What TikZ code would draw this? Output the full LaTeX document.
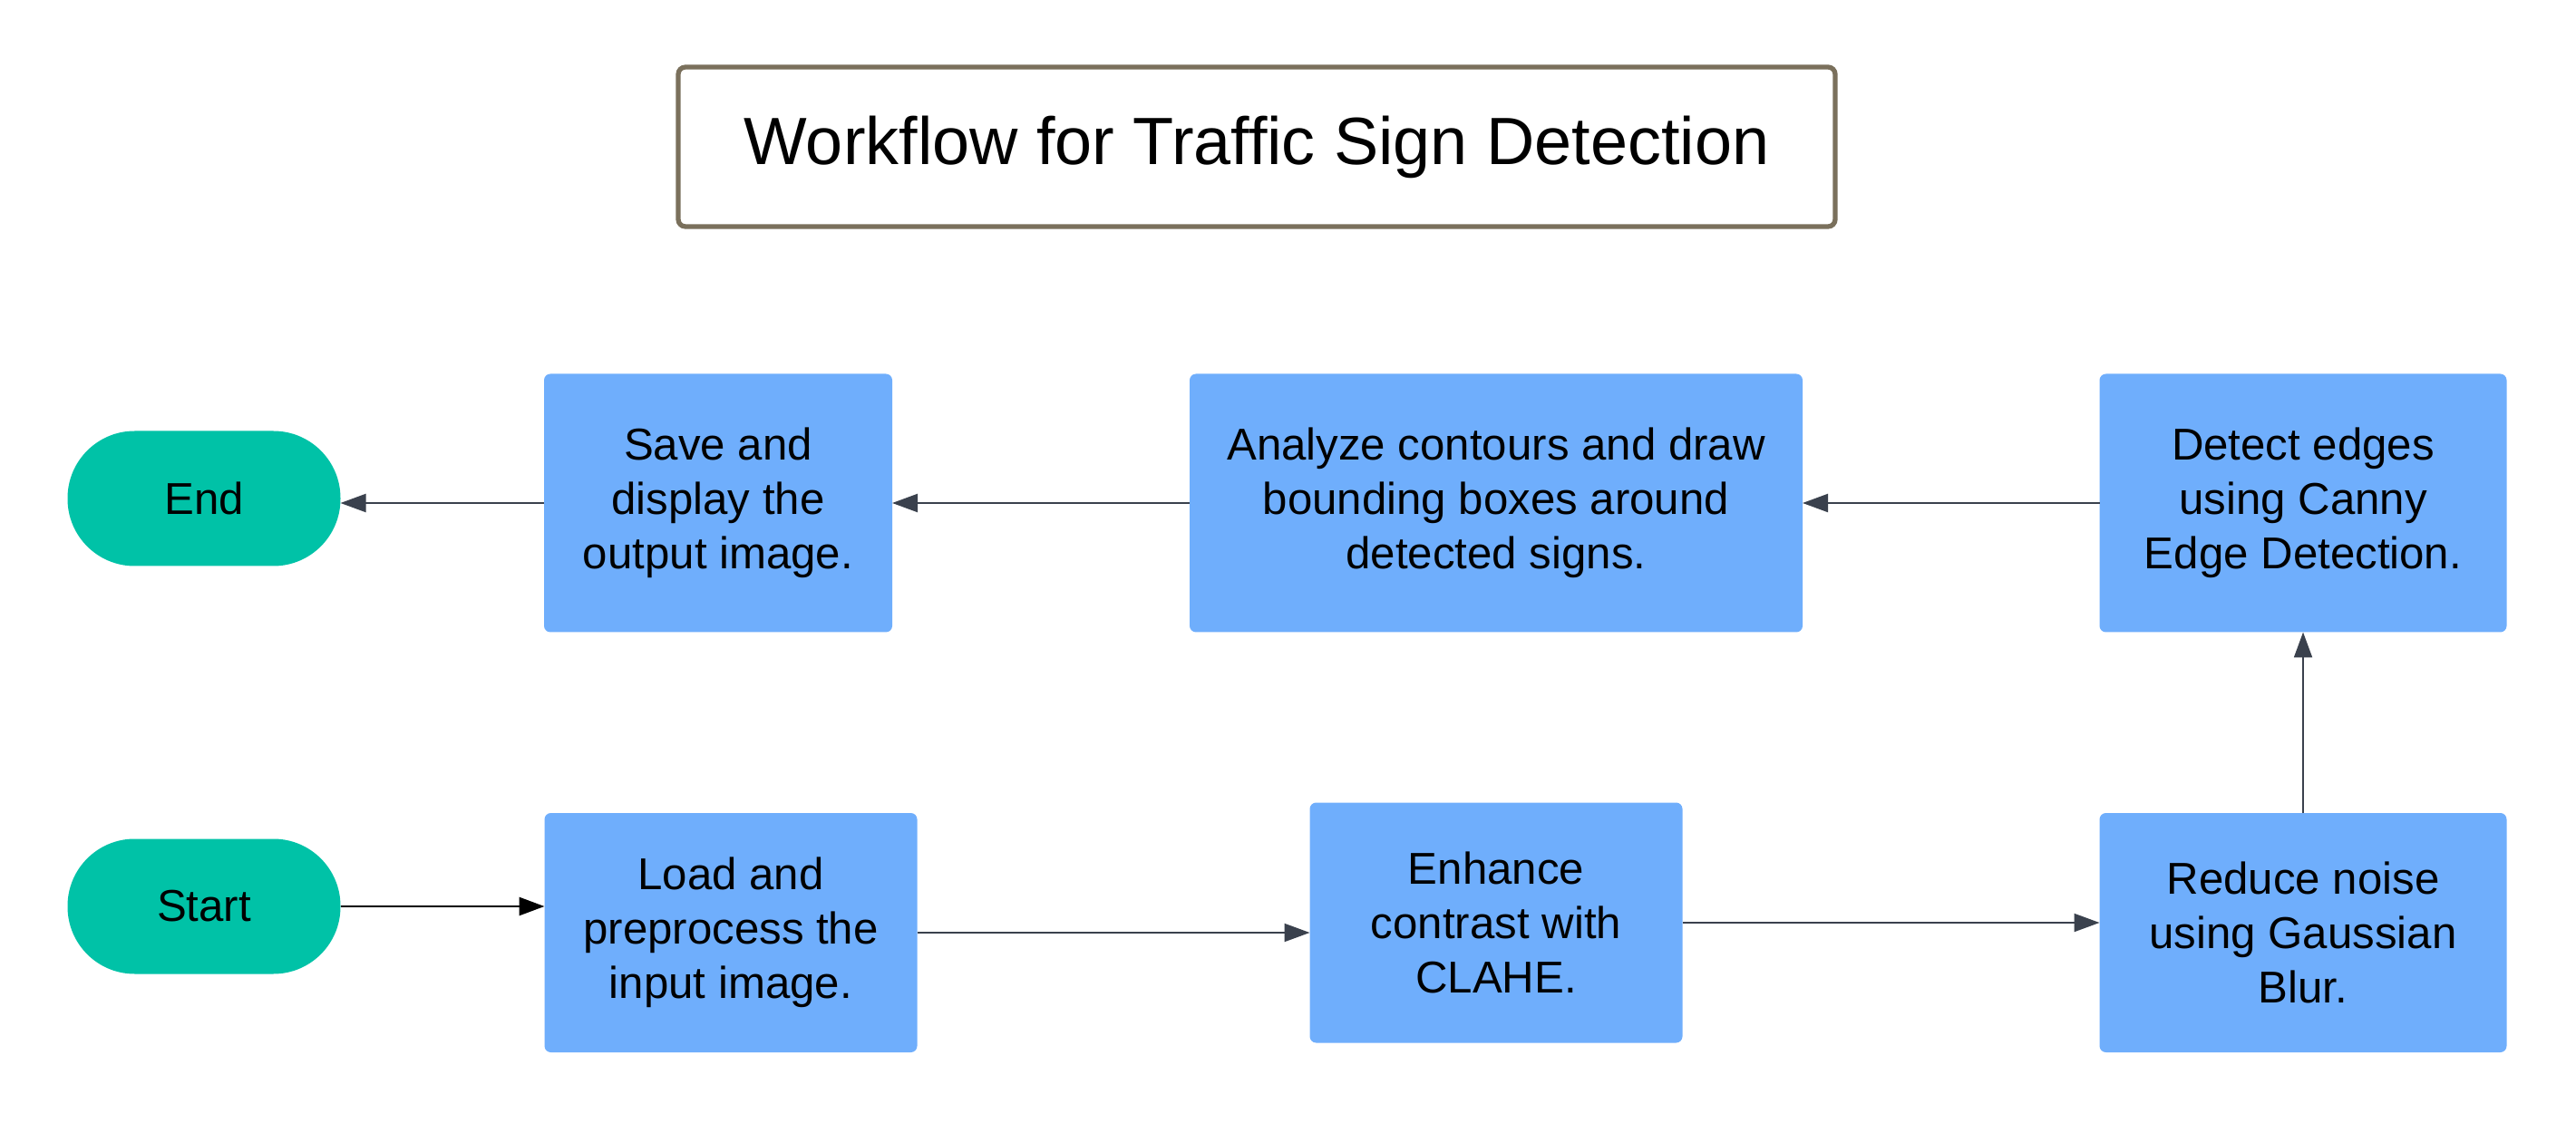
\documentclass[tikz,border=0pt]{standalone}
\usepackage{fontspec}
\setmainfont{Liberation Sans}
\usetikzlibrary{arrows.meta}
\usetikzlibrary{positioning}

\begin{document}
\begin{tikzpicture}[every node/.style={inner sep=0,outer sep=0},
    stepbox/.style={fill=boxblue, rounded corners=0.07cm, align=center, font=\fontsize{14}{17}\selectfont},
    term/.style={fill=termgreen, rounded corners=0.74cm, minimum width=3.01cm, minimum height=1.49cm, font=\fontsize{14}{17}\selectfont},
    flow/.style={draw=linegray, line width=0.6pt, -{Triangle[length=0.28cm,width=0.2cm]}}]
        % Colors
        \definecolor{boxblue}{RGB}{111,174,252}
        \definecolor{termgreen}{RGB}{0,194,167}
        \definecolor{linegray}{RGB}{58,65,77}
        \definecolor{titlebrown}{RGB}{122,112,92}

        \useasboundingbox (0,0) rectangle (28.41,12.38);

        % Title
        \node[draw=titlebrown, line width=1.5pt, rounded corners=0.08cm, minimum width=12.76cm, minimum height=1.76cm, font=\fontsize{21}{25}\selectfont] (title) at (13.86, 10.76) {Workflow for Traffic Sign Detection};

        % Top row
        \node[term] (end_node) at (2.25, 6.88) {End};
        \node[stepbox, minimum width=3.84cm, minimum height=2.85cm] (save_out) at (7.92, 6.83) {Save and\\display the\\output image.};
        \node[stepbox, minimum width=6.76cm, minimum height=2.85cm] (analyze_cnt) at (16.50, 6.83) {Analyze contours and draw\\bounding boxes around\\detected signs.};
        \node[stepbox, minimum width=4.49cm, minimum height=2.85cm] (detect_edge) at (25.40, 6.83) {Detect edges\\using Canny\\Edge Detection.};

        % Bottom row
        \node[term] (start_node) at (2.25, 2.38) {Start};
        \node[stepbox, minimum width=4.11cm, minimum height=2.64cm] (load_img) at (8.06, 2.09) {Load and\\preprocess the\\input image.};
        \node[stepbox, minimum width=4.11cm, minimum height=2.65cm] (enh_con) at (16.50, 2.20) {Enhance\\contrast with\\CLAHE.};
        \node[stepbox, minimum width=4.49cm, minimum height=2.64cm] (red_noise) at (25.40, 2.09) {Reduce noise\\using Gaussian\\Blur.};

        % Arrows
        \draw[flow, draw=black, line width=0.8pt] (start_node.east) -- (start_node.east -| load_img.west);
        \draw[flow] (load_img.east) -- (load_img.east -| enh_con.west);
        \draw[flow] (enh_con.east) -- (enh_con.east -| red_noise.west);
        \draw[flow] (red_noise.north) -- (detect_edge.south);
        \draw[flow] (detect_edge.west) -- (analyze_cnt.east);
        \draw[flow] (analyze_cnt.west) -- (save_out.east);
        \draw[flow] (save_out.west) -- (save_out.west -| end_node.east);
      \end{tikzpicture}
\end{document}
